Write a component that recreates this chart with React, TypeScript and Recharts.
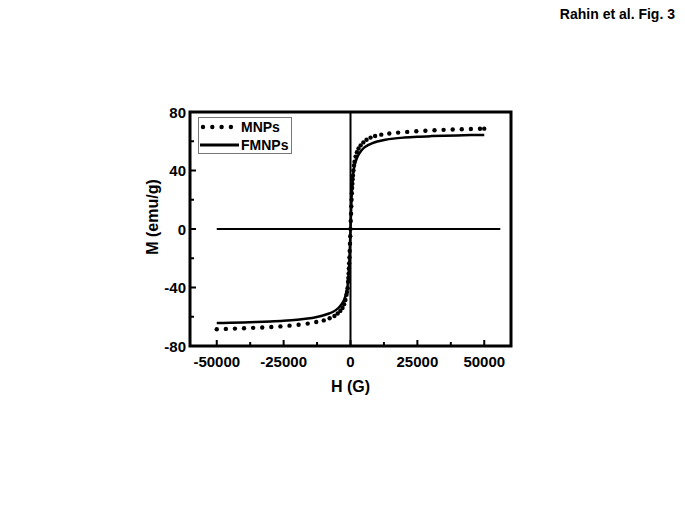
import { LineChart, Line, XAxis, YAxis, ReferenceLine, ReferenceArea } from 'recharts'

const mnpsH = [
  -50000, -46600, -43200, -39800, -36400, -33000, -29600, -26200, -22800, -19400,
  -16000, -12800, -10000, -7800, -6000, -4800, -3800, -3000, -2400, -1900,
  -1500, -1300, -1100, -900, -800, -700, -600, -500, -400, -300, -200, -100, 0,
  100, 200, 300, 400, 500, 600, 700, 800, 900, 1100, 1300, 1500, 1900, 2400,
  3000, 3800, 4800, 6000, 7500, 9200, 11500, 14500, 17800, 21200, 24600,
  28000, 31400, 34800, 38200, 41600, 45000, 48400, 50000,
]
const mnpsM = [
  -68.5, -68.3, -68.1, -67.9, -67.6, -67.3, -67.0, -66.6, -66.1, -65.5,
  -64.7, -63.6, -62.5, -61.0, -59.5, -57.8, -56.0, -54.0, -51.5, -48.5,
  -45.0, -43.0, -40.5, -36.0, -33.5, -30.5, -27.0, -23.5, -19.5, -15.0, -10.0, -5.0, 0,
  5.5, 10.5, 15.5, 20.0, 24.5, 28.0, 31.0, 34.0, 36.5, 40.0, 43.5, 46.0, 49.5, 52.5,
  55.0, 57.2, 59.2, 61.0, 62.5, 63.6, 64.5, 65.3, 65.9, 66.4, 66.8,
  67.2, 67.5, 67.8, 68.0, 68.2, 68.4, 68.5, 68.6,
]

const fmnpsH = [
  -50000, -45000, -40000, -35000, -30000, -25000, -20000, -16000, -13000, -10000,
  -8000, -6500, -5000, -4000, -3000, -2200, -1600, -1100, -700, -400, -200, 0,
  200, 400, 700, 1100, 1600, 2200, 3000, 4000, 5000, 6500, 8000, 10000, 13000,
  16000, 20000, 25000, 30000, 35000, 40000, 45000, 50000,
]
const fmnpsM = [
  -64.3, -64.1, -63.9, -63.6, -63.2, -62.7, -62.0, -61.2, -60.3, -59.0,
  -57.8, -56.6, -54.8, -53.0, -50.5, -47.5, -44.0, -39.0, -31.0, -21.0, -11.0, 0,
  11.0, 21.0, 31.0, 39.0, 44.0, 47.5, 50.8, 53.5, 55.5, 57.3, 58.6, 59.8, 61.0,
  61.8, 62.5, 63.1, 63.5, 63.8, 64.0, 64.2, 64.3,
]

const xTicks = [-50000, -25000, 0, 25000, 50000]
const xMinorTicks = [-37500, -12500, 12500, 37500]
const yTicks = [-80, -40, 0, 40, 80]
const yMinorTicks = [-60, -20, 20, 60]

const mnps = mnpsH.map((h, i) => ({ h, m: mnpsM[i] }))
const fmnps = fmnpsH.map((h, i) => ({ h, m: fmnpsM[i] }))

const font = '"Liberation Sans", Arial, sans-serif'
const xDomain = [-60000, 60000]
const yDomain = [-80, 80]

// ticks point into the plot; minor ticks get no label
function XTick(props: any) {
  const { x, y, payload } = props
  const major = xTicks.includes(payload.value)
  return (
    <g>
      <line x1={x} x2={x} y1={y} y2={y - (major ? 6 : 4)} stroke="#000" strokeWidth={2} />
      {major && (
        <text x={x} y={y + 21} textAnchor="middle" fontSize={15} fontWeight="bold" fill="#000" fontFamily={font}>
          {payload.value}
        </text>
      )}
    </g>
  )
}

function YTick(props: any) {
  const { x, y, payload } = props
  const major = yTicks.includes(payload.value)
  return (
    <g>
      <line x1={x} x2={x + (major ? 6 : 4)} y1={y} y2={y} stroke="#000" strokeWidth={2} />
      {major && (
        <text x={x - 4} y={y + 5.5} textAnchor="end" fontSize={15} fontWeight="bold" fill="#000" fontFamily={font}>
          {payload.value}
        </text>
      )}
    </g>
  )
}

function LegendBox() {
  return (
    <div
      style={{
        position: 'absolute',
        left: 190,
        top: 109,
        border: '1px solid #777',
        fontFamily: font,
        fontWeight: 'bold',
        fontSize: 14,
        color: '#000',
        padding: '0 3px 0 1px',
        background: '#fff',
      }}
    >
      <div style={{ display: 'flex', alignItems: 'center', height: 18 }}>
        <svg width={39} height={8} style={{ marginRight: 2 }}>
          {[0, 1, 2, 3].map((k) => (
            <circle key={k} cx={3 + k * 9.3} cy={4} r={2.2} fill="#000" />
          ))}
        </svg>
        <span>MNPs</span>
      </div>
      <div style={{ display: 'flex', alignItems: 'center', height: 17 }}>
        <svg width={39} height={8} style={{ marginRight: 2 }}>
          <line x1={0} y1={4} x2={39} y2={4} stroke="#000" strokeWidth={3} />
        </svg>
        <span>FMNPs</span>
      </div>
    </div>
  )
}

export default function App() {
  return (
    <div style={{ position: 'relative', width: 670, height: 497 }}>
      <div
        style={{
          position: 'absolute',
          top: -2,
          right: 3,
          fontFamily: font,
          fontWeight: 'bold',
          fontSize: 14,
          lineHeight: '16px',
        }}
      >
        Rahin et al. Fig. 3
      </div>
      <LineChart width={670} height={497} margin={{ top: 104, right: 167, bottom: 113, left: 122 }}>
        <XAxis
          dataKey="h"
          type="number"
          domain={xDomain}
          allowDataOverflow
          ticks={[...xTicks, ...xMinorTicks]}
          interval={0}
          tickLine={false}
          tickSize={0}
          tickMargin={0}
          height={46}
          axisLine={false}
          tick={<XTick />}
          label={{
            value: 'H (G)',
            position: 'insideBottom',
            offset: 0,
            style: { fontSize: 16, fontWeight: 'bold', fill: '#000', fontFamily: font },
          }}
        />
        <YAxis
          type="number"
          domain={yDomain}
          allowDataOverflow
          ticks={[...yTicks, ...yMinorTicks]}
          interval={0}
          width={60}
          tickLine={false}
          tickSize={0}
          tickMargin={0}
          axisLine={false}
          tick={<YTick />}
          label={{
            value: 'M (emu/g)',
            angle: -90,
            position: 'insideLeft',
            offset: 22,
            dy: -12,
            style: { fontSize: 16, fontWeight: 'bold', fill: '#000', fontFamily: font, textAnchor: 'middle' },
          }}
        />
        <ReferenceArea
          x1={xDomain[0]}
          x2={xDomain[1]}
          y1={yDomain[0]}
          y2={yDomain[1]}
          fill="none"
          fillOpacity={0}
          stroke="#000"
          strokeWidth={3}
        />
        <ReferenceLine
          segment={[
            { x: -50000, y: 0 },
            { x: 56000, y: 0 },
          ]}
          stroke="#000"
          strokeWidth={2}
        />
        <ReferenceLine x={0} stroke="#000" strokeWidth={2} />
        <Line
          data={fmnps}
          dataKey="m"
          type="monotone"
          stroke="#000"
          strokeWidth={2.5}
          dot={false}
          isAnimationActive={false}
        />
        <Line
          data={mnps}
          dataKey="m"
          type="linear"
          stroke="none"
          dot={{ r: 2.2, fill: '#000', stroke: 'none' }}
          isAnimationActive={false}
        />
      </LineChart>
      <LegendBox />
    </div>
  )
}
